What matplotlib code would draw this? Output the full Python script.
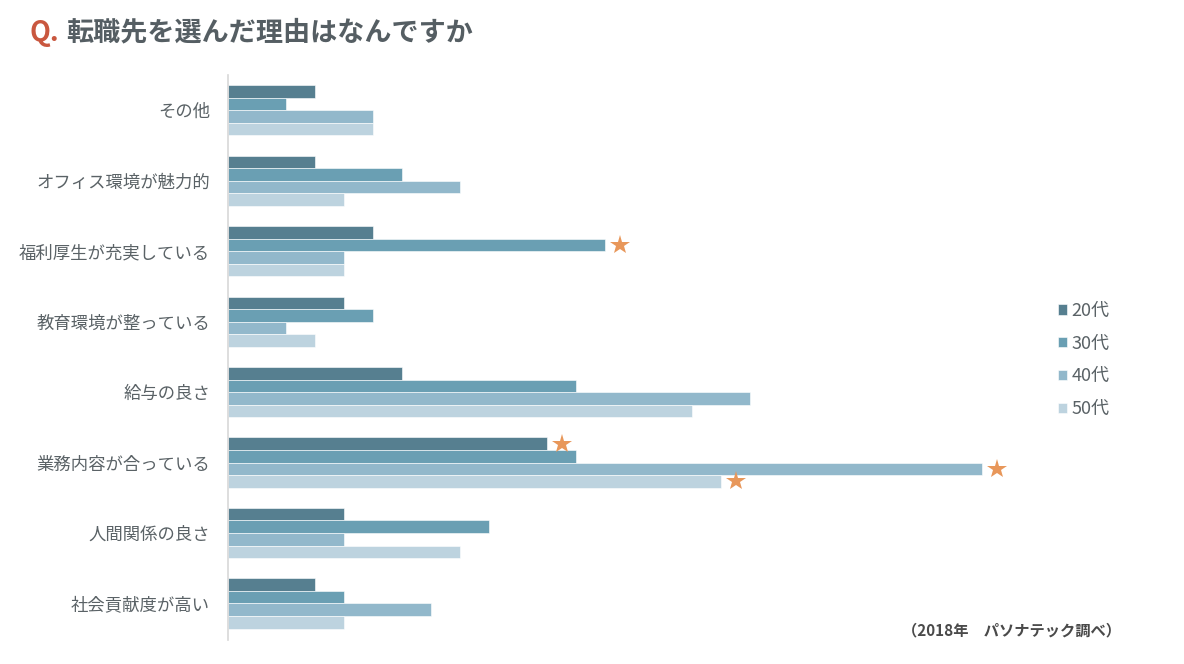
import matplotlib
matplotlib.use('Agg')
import matplotlib.pyplot as plt
import numpy as np

plt.rcParams['font.family'] = ['Noto Sans CJK JP', 'DejaVu Sans']

categories = ['その他', 'オフィス環境が魅力的', '福利厚生が充実している', '教育環境が整っている',
              '給与の良さ', '業務内容が合っている', '人間関係の良さ', '社会貢献度が高い']
series = ['20代', '30代', '40代', '50代']
v20 = [3, 3, 5, 4, 6, 11, 4, 3]
v30 = [2, 6, 13, 5, 12, 12, 9, 4]
v40 = [5, 8, 4, 2, 18, 26, 4, 7]
v50 = [5, 4, 4, 3, 16, 17, 8, 4]
# (category index, series index) marked with a star
stars = [(2, 1), (5, 0), (5, 2), (5, 3)]

colors = ['#567f90', '#6a9fb3', '#92b8cb', '#bdd3df']
text_col = '#5a6266'

fig = plt.figure(figsize=(11.84, 6.64), dpi=100)
ax = fig.add_axes([0.1926, 0.036, 0.7348, 0.851])

values = [v20, v30, v40, v50]
h = 0.178
y = np.arange(len(categories))
for j, (name, vals) in enumerate(zip(series, values)):
    off = (j - 1.5) * h
    ax.barh(y + off, vals, height=h, color=colors[j], label=name,
            edgecolor='white', linewidth=0.4)

for ci, sj in stars:
    val = values[sj][ci]
    ax.plot(val + 0.5, ci + (sj - 1.5) * h, marker='*', markersize=15,
            color='#e8975a', markeredgewidth=0, clip_on=False)

ax.set_xlim(0, 30)
ax.set_ylim(len(categories) - 1 + 0.52, -0.5)
ax.set_yticks(y)
ax.set_yticklabels(categories, fontsize=12.5, color=text_col)
ax.tick_params(axis='y', length=0, pad=13)
ax.set_xticks([])
for s in ['top', 'right', 'bottom']:
    ax.spines[s].set_visible(False)
ax.spines['left'].set_color('#d8d8d8')
ax.spines['left'].set_linewidth(1.2)

leg = fig.legend(loc='upper left', bbox_to_anchor=(0.88, 0.570), frameon=False,
                 fontsize=13, handlelength=0.5, handleheight=0.5,
                 handletextpad=0.25, labelspacing=0.82)
for t in leg.get_texts():
    t.set_color(text_col)

fig.text(0.025, 0.951, 'Q.', fontsize=19.5, fontweight='bold', color='#c9573f', va='center')
fig.text(0.056, 0.951, '転職先を選んだ理由はなんですか', fontsize=19.5, fontweight='bold',
         color='#555e63', va='center')
fig.text(0.762, 0.05, '（2018年　パソナテック調べ）', fontsize=11, fontweight='bold',
         color='#4a4a4a', va='center')

fig.savefig('out.png', dpi=100, facecolor='white')
